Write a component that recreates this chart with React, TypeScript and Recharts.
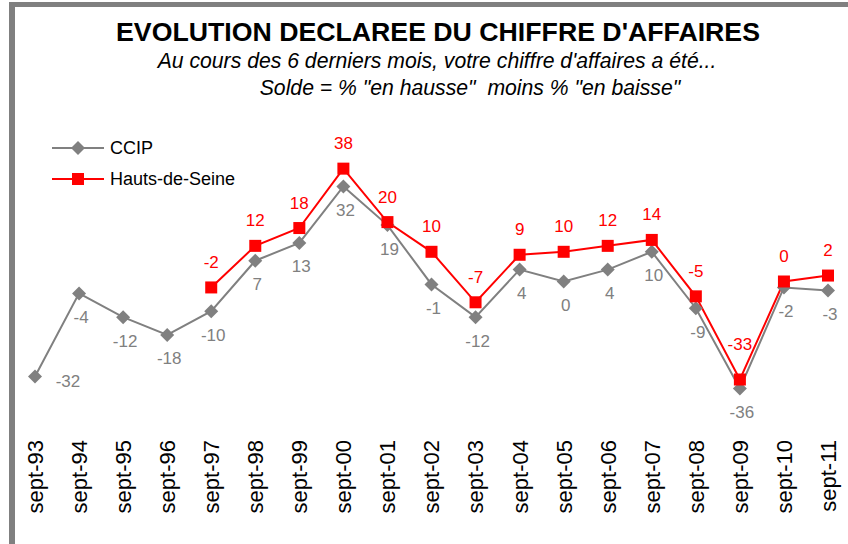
import React from "react";
import { LineChart, Line, XAxis, YAxis, LabelList } from "recharts";

const categories = [
  "sept-93", "sept-94", "sept-95", "sept-96", "sept-97", "sept-98", "sept-99",
  "sept-00", "sept-01", "sept-02", "sept-03", "sept-04", "sept-05", "sept-06",
  "sept-07", "sept-08", "sept-09", "sept-10", "sept-11",
];
const ccip = [-32, -4, -12, -18, -10, 7, 13, 32, 19, -1, -12, 4, 0, 4, 10, -9, -36, -2, -3];
const hautsDeSeine: (number | null)[] = [null, null, null, null, -2, 12, 18, 38, 20, 10, -7, 9, 10, 12, 14, -5, -33, 0, 2];

const data = categories.map((c, i) => ({ cat: c, ccip: ccip[i], hds: hautsDeSeine[i] }));

const GRAY = "#808080";
const RED = "#ff0000";
const FONT = "'Liberation Sans', Arial, sans-serif";

const Diamond = (props: any) => {
  const { cx, cy } = props;
  if (cx == null || cy == null) return null;
  const r = 7;
  return <polygon points={`${cx},${cy - r} ${cx + r},${cy} ${cx},${cy + r} ${cx - r},${cy}`} fill={GRAY} />;
};
const Square = (props: any) => {
  const { cx, cy, value } = props;
  if (cx == null || cy == null || value == null) return null;
  const s = 12;
  return <rect x={cx - s / 2} y={cy - s / 2} width={s} height={s} fill={RED} />;
};

const CcipLabel = (props: any) => {
  const { x, y, value, index } = props;
  if (value == null) return null;
  const first = index === 0;
  return (
    <text x={first ? x + 33 : x + 2} y={first ? y + 5 : y + 24} textAnchor="middle" dominantBaseline="central"
      fill={GRAY} fontSize={17} fontFamily={FONT}>{value}</text>
  );
};
const HdsLabel = (props: any) => {
  const { x, y, value, index } = props;
  if (value == null) return null;
  const off = index === 16 ? 35 : 25;
  return (
    <text x={x} y={y - off} textAnchor="middle" dominantBaseline="central"
      fill={RED} fontSize={17} fontFamily={FONT}>{value}</text>
  );
};

const Tick = (props: any) => {
  const { x, y, payload } = props;
  return (
    <g transform={`translate(${x},${y + 2}) rotate(-90)`}>
      <text x={0} y={0} dy="0.36em" textAnchor="end" fill="#000" fontSize={22} fontFamily={FONT}>{payload.value}</text>
    </g>
  );
};

export default function App() {
  return (
    <div style={{ position: "absolute", left: 0, top: 0, width: 848, height: 544, background: "#fff", overflow: "hidden" }}>
      <div style={{ position: "absolute", left: 9, top: 2, width: 900, height: 600, borderLeft: `6px solid ${GRAY}`, borderTop: `5px solid ${GRAY}` }} />
      <svg width={848} height={544} style={{ position: "absolute", left: 0, top: 0 }}>
        <text x={438} y={41} textAnchor="middle" fontSize={26.7} fontWeight="bold" fontFamily={FONT} fill="#000">EVOLUTION DECLAREE DU CHIFFRE D'AFFAIRES</text>
        <text x={437} y={68} textAnchor="middle" fontSize={21.2} fontStyle="italic" fontFamily={FONT} fill="#000">Au cours des 6 derniers mois, votre chiffre d'affaires a été...</text>
        <text x={470} y={95} textAnchor="middle" fontSize={21.2} fontStyle="italic" fontFamily={FONT} fill="#000" style={{ whiteSpace: "pre" }}>{'Solde = % "en hausse"  moins % "en baisse"'}</text>
        <g transform="translate(52,138)">
          <line x1={0} y1={10} x2={52} y2={10} stroke={GRAY} strokeWidth={2} />
          <polygon points="26,3 33,10 26,17 19,10" fill={GRAY} />
          <text x={58} y={10} dominantBaseline="central" fontSize={18} fontFamily={FONT} fill="#000">CCIP</text>
          <line x1={0} y1={41} x2={52} y2={41} stroke={RED} strokeWidth={2} />
          <rect x={20} y={35} width={12} height={12} fill={RED} />
          <text x={58} y={41} dominantBaseline="central" fontSize={18} fontFamily={FONT} fill="#000">Hauts-de-Seine</text>
        </g>
      </svg>
      <div style={{ position: "absolute", left: 0, top: 0 }}>
        <LineChart width={848} height={544} data={data} margin={{ top: 133, right: 20, bottom: 14, left: 35 }}>
          <XAxis dataKey="cat" axisLine={false} tickLine={false} interval={0} height={100} tick={<Tick />} />
          <YAxis hide domain={[-50, 50]} />
          <Line dataKey="ccip" stroke={GRAY} strokeWidth={2} dot={<Diamond />} isAnimationActive={false}>
            <LabelList dataKey="ccip" content={<CcipLabel />} />
          </Line>
          <Line dataKey="hds" stroke={RED} strokeWidth={2} dot={<Square />} isAnimationActive={false} connectNulls={false}>
            <LabelList dataKey="hds" content={<HdsLabel />} />
          </Line>
        </LineChart>
      </div>
    </div>
  );
}
